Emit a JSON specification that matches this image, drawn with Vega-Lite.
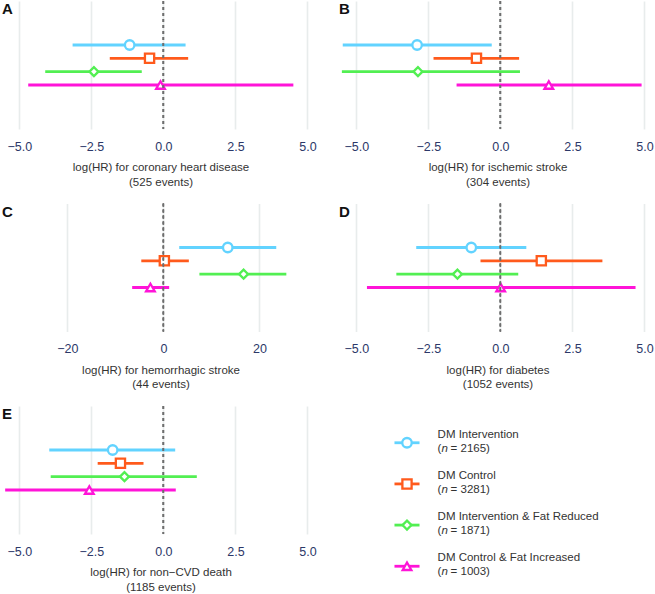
{
  "$schema": "https://vega.github.io/schema/vega-lite/v6.json",
  "padding": {"left": 2, "top": 0, "right": 0, "bottom": 0},
  "background": "white",
  "config": {
    "view": {"stroke": null},
    "font": "Liberation Sans",
    "axis": {"domain": false, "ticks": false, "grid": true, "gridColor": "#E8ECEC", "gridWidth": 1.6, "labelFont": "Liberation Sans", "labelFontSize": 12.5, "labelColor": "#2C3868", "labelFlush": false, "labelOverlap": false, "labelPadding": 11, "titleFont": "Liberation Sans", "titleFontSize": 11.5, "titleColor": "#333333", "titleFontWeight": "normal", "titlePadding": 9, "titleLineHeight": 14.5},
    "title": {"font": "Liberation Sans", "fontSize": 15, "fontWeight": "bold", "color": "#111111", "anchor": "start", "frame": "group", "offset": -17},
    "text": {"font": "Liberation Sans", "fontSize": 11.5, "color": "#333333"}
  },
  "datasets": {
    "est": [
      {"panel": "A", "group": "DM Intervention", "est": -1.17, "lo": -3.15, "hi": 0.77},
      {"panel": "A", "group": "DM Control", "est": -0.48, "lo": -1.86, "hi": 0.86},
      {"panel": "A", "group": "DM Intervention & Fat Reduced", "est": -2.41, "lo": -4.10, "hi": -0.75},
      {"panel": "A", "group": "DM Control & Fat Increased", "est": -0.10, "lo": -4.69, "hi": 4.51},
      {"panel": "B", "group": "DM Intervention", "est": -2.89, "lo": -5.47, "hi": -0.30},
      {"panel": "B", "group": "DM Control", "est": -0.83, "lo": -2.32, "hi": 0.65},
      {"panel": "B", "group": "DM Intervention & Fat Reduced", "est": -2.86, "lo": -5.50, "hi": 0.68},
      {"panel": "B", "group": "DM Control & Fat Increased", "est": 1.68, "lo": -1.52, "hi": 4.90},
      {"panel": "C", "group": "DM Intervention", "est": 13.4, "lo": 3.3, "hi": 23.5},
      {"panel": "C", "group": "DM Control", "est": 0.2, "lo": -4.6, "hi": 5.3},
      {"panel": "C", "group": "DM Intervention & Fat Reduced", "est": 16.7, "lo": 7.5, "hi": 25.6},
      {"panel": "C", "group": "DM Control & Fat Increased", "est": -2.7, "lo": -6.5, "hi": 1.2},
      {"panel": "D", "group": "DM Intervention", "est": -1.01, "lo": -2.92, "hi": 0.90},
      {"panel": "D", "group": "DM Control", "est": 1.42, "lo": -0.69, "hi": 3.54},
      {"panel": "D", "group": "DM Intervention & Fat Reduced", "est": -1.49, "lo": -3.61, "hi": 0.62},
      {"panel": "D", "group": "DM Control & Fat Increased", "est": 0.01, "lo": -4.63, "hi": 4.69},
      {"panel": "E", "group": "DM Intervention", "est": -1.76, "lo": -3.96, "hi": 0.41},
      {"panel": "E", "group": "DM Control", "est": -1.49, "lo": -2.28, "hi": -0.69},
      {"panel": "E", "group": "DM Intervention & Fat Reduced", "est": -1.35, "lo": -3.91, "hi": 1.16},
      {"panel": "E", "group": "DM Control & Fat Increased", "est": -2.57, "lo": -5.49, "hi": 0.43}
    ],
    "leg": [
      {"group": "DM Intervention", "ntext": "= 2165)"},
      {"group": "DM Control", "ntext": "= 3281)"},
      {"group": "DM Intervention & Fat Reduced", "ntext": "= 1871)"},
      {"group": "DM Control & Fat Increased", "ntext": "= 1003)"}
    ]
  },
  "columns": 2,
  "bounds": "flush",
  "spacing": {"row": 74.5, "column": 20},
  "concat": [
    {
      "width": 317, "height": 128,
      "title": {"text": "A"},
      "data": {"name": "est"},
      "transform": [{"filter": "datum.panel === 'A'"}],
      "layer": [
        {"mark": {"type": "rule", "strokeWidth": 2.8},
         "encoding": {
           "x": {"field": "lo", "type": "quantitative", "scale": {"domain": [-5.6, 5.4], "nice": false, "zero": false}, "axis": {"values": [-5, -2.5, 0, 2.5, 5], "format": ".1f", "title": ["log(HR) for coronary heart disease", "(525 events)"]}},
           "x2": {"field": "hi"},
           "y": {"field": "group", "type": "nominal", "scale": {"type": "point", "padding": 0.3, "domain": [" ", "  ", "   ", "DM Intervention", "DM Control", "DM Intervention & Fat Reduced", "DM Control & Fat Increased", "    ", "     ", "      "]}, "axis": null},
           "color": {"field": "group", "type": "nominal", "scale": {"domain": ["DM Intervention", "DM Control", "DM Intervention & Fat Reduced", "DM Control & Fat Increased"], "range": ["#62D3FF", "#FF5A1C", "#52EF52", "#FF14D8"]}, "legend": null}
         }},
        {"mark": {"type": "point", "filled": false, "fill": "white", "fillOpacity": 1, "strokeWidth": 2.3, "opacity": 1},
         "encoding": {
           "x": {"field": "est", "type": "quantitative"},
           "y": {"field": "group", "type": "nominal"},
           "color": {"field": "group", "type": "nominal", "legend": null},
           "shape": {"field": "group", "type": "nominal", "scale": {"domain": ["DM Intervention", "DM Control", "DM Intervention & Fat Reduced", "DM Control & Fat Increased"], "range": ["circle", "square", "diamond", "triangle-up"]}, "legend": null},
           "size": {"field": "group", "type": "nominal", "scale": {"domain": ["DM Intervention", "DM Control", "DM Intervention & Fat Reduced", "DM Control & Fat Increased"], "range": [90, 75, 140, 160]}, "legend": null}
         }},
        {"mark": {"type": "rule", "strokeDash": [3, 3], "color": "#6E6E6E", "strokeWidth": 1.4}, "encoding": {"x": {"datum": 0, "type": "quantitative"}}}
      ]
    },
    {
      "width": 317, "height": 128,
      "title": {"text": "B"},
      "data": {"name": "est"},
      "transform": [{"filter": "datum.panel === 'B'"}],
      "layer": [
        {"mark": {"type": "rule", "strokeWidth": 2.8},
         "encoding": {
           "x": {"field": "lo", "type": "quantitative", "scale": {"domain": [-5.6, 5.4], "nice": false, "zero": false}, "axis": {"values": [-5, -2.5, 0, 2.5, 5], "format": ".1f", "title": ["log(HR) for ischemic stroke", "(304 events)"]}},
           "x2": {"field": "hi"},
           "y": {"field": "group", "type": "nominal", "scale": {"type": "point", "padding": 0.3, "domain": [" ", "  ", "   ", "DM Intervention", "DM Control", "DM Intervention & Fat Reduced", "DM Control & Fat Increased", "    ", "     ", "      "]}, "axis": null},
           "color": {"field": "group", "type": "nominal", "scale": {"domain": ["DM Intervention", "DM Control", "DM Intervention & Fat Reduced", "DM Control & Fat Increased"], "range": ["#62D3FF", "#FF5A1C", "#52EF52", "#FF14D8"]}, "legend": null}
         }},
        {"mark": {"type": "point", "filled": false, "fill": "white", "fillOpacity": 1, "strokeWidth": 2.3, "opacity": 1},
         "encoding": {
           "x": {"field": "est", "type": "quantitative"},
           "y": {"field": "group", "type": "nominal"},
           "color": {"field": "group", "type": "nominal", "legend": null},
           "shape": {"field": "group", "type": "nominal", "scale": {"domain": ["DM Intervention", "DM Control", "DM Intervention & Fat Reduced", "DM Control & Fat Increased"], "range": ["circle", "square", "diamond", "triangle-up"]}, "legend": null},
           "size": {"field": "group", "type": "nominal", "scale": {"domain": ["DM Intervention", "DM Control", "DM Intervention & Fat Reduced", "DM Control & Fat Increased"], "range": [90, 75, 140, 160]}, "legend": null}
         }},
        {"mark": {"type": "rule", "strokeDash": [3, 3], "color": "#6E6E6E", "strokeWidth": 1.4}, "encoding": {"x": {"datum": 0, "type": "quantitative"}}}
      ]
    },
    {
      "width": 317, "height": 128,
      "title": {"text": "C"},
      "data": {"name": "est"},
      "transform": [{"filter": "datum.panel === 'C'"}],
      "layer": [
        {"mark": {"type": "rule", "strokeWidth": 2.8},
         "encoding": {
           "x": {"field": "lo", "type": "quantitative", "scale": {"domain": [-33.6, 32.4], "nice": false, "zero": false}, "axis": {"values": [-20, 0, 20], "format": "d", "title": ["log(HR) for hemorrhagic stroke", "(44 events)"]}},
           "x2": {"field": "hi"},
           "y": {"field": "group", "type": "nominal", "scale": {"type": "point", "padding": 0.3, "domain": [" ", "  ", "   ", "DM Intervention", "DM Control", "DM Intervention & Fat Reduced", "DM Control & Fat Increased", "    ", "     ", "      "]}, "axis": null},
           "color": {"field": "group", "type": "nominal", "scale": {"domain": ["DM Intervention", "DM Control", "DM Intervention & Fat Reduced", "DM Control & Fat Increased"], "range": ["#62D3FF", "#FF5A1C", "#52EF52", "#FF14D8"]}, "legend": null}
         }},
        {"mark": {"type": "point", "filled": false, "fill": "white", "fillOpacity": 1, "strokeWidth": 2.3, "opacity": 1},
         "encoding": {
           "x": {"field": "est", "type": "quantitative"},
           "y": {"field": "group", "type": "nominal"},
           "color": {"field": "group", "type": "nominal", "legend": null},
           "shape": {"field": "group", "type": "nominal", "scale": {"domain": ["DM Intervention", "DM Control", "DM Intervention & Fat Reduced", "DM Control & Fat Increased"], "range": ["circle", "square", "diamond", "triangle-up"]}, "legend": null},
           "size": {"field": "group", "type": "nominal", "scale": {"domain": ["DM Intervention", "DM Control", "DM Intervention & Fat Reduced", "DM Control & Fat Increased"], "range": [90, 75, 140, 160]}, "legend": null}
         }},
        {"mark": {"type": "rule", "strokeDash": [3, 3], "color": "#6E6E6E", "strokeWidth": 1.4}, "encoding": {"x": {"datum": 0, "type": "quantitative"}}}
      ]
    },
    {
      "width": 317, "height": 128,
      "title": {"text": "D"},
      "data": {"name": "est"},
      "transform": [{"filter": "datum.panel === 'D'"}],
      "layer": [
        {"mark": {"type": "rule", "strokeWidth": 2.8},
         "encoding": {
           "x": {"field": "lo", "type": "quantitative", "scale": {"domain": [-5.6, 5.4], "nice": false, "zero": false}, "axis": {"values": [-5, -2.5, 0, 2.5, 5], "format": ".1f", "title": ["log(HR) for diabetes", "(1052 events)"]}},
           "x2": {"field": "hi"},
           "y": {"field": "group", "type": "nominal", "scale": {"type": "point", "padding": 0.3, "domain": [" ", "  ", "   ", "DM Intervention", "DM Control", "DM Intervention & Fat Reduced", "DM Control & Fat Increased", "    ", "     ", "      "]}, "axis": null},
           "color": {"field": "group", "type": "nominal", "scale": {"domain": ["DM Intervention", "DM Control", "DM Intervention & Fat Reduced", "DM Control & Fat Increased"], "range": ["#62D3FF", "#FF5A1C", "#52EF52", "#FF14D8"]}, "legend": null}
         }},
        {"mark": {"type": "point", "filled": false, "fill": "white", "fillOpacity": 1, "strokeWidth": 2.3, "opacity": 1},
         "encoding": {
           "x": {"field": "est", "type": "quantitative"},
           "y": {"field": "group", "type": "nominal"},
           "color": {"field": "group", "type": "nominal", "legend": null},
           "shape": {"field": "group", "type": "nominal", "scale": {"domain": ["DM Intervention", "DM Control", "DM Intervention & Fat Reduced", "DM Control & Fat Increased"], "range": ["circle", "square", "diamond", "triangle-up"]}, "legend": null},
           "size": {"field": "group", "type": "nominal", "scale": {"domain": ["DM Intervention", "DM Control", "DM Intervention & Fat Reduced", "DM Control & Fat Increased"], "range": [90, 75, 140, 160]}, "legend": null}
         }},
        {"mark": {"type": "rule", "strokeDash": [3, 3], "color": "#6E6E6E", "strokeWidth": 1.4}, "encoding": {"x": {"datum": 0, "type": "quantitative"}}}
      ]
    },
    {
      "width": 317, "height": 128,
      "title": {"text": "E"},
      "data": {"name": "est"},
      "transform": [{"filter": "datum.panel === 'E'"}],
      "layer": [
        {"mark": {"type": "rule", "strokeWidth": 2.8},
         "encoding": {
           "x": {"field": "lo", "type": "quantitative", "scale": {"domain": [-5.6, 5.4], "nice": false, "zero": false}, "axis": {"values": [-5, -2.5, 0, 2.5, 5], "format": ".1f", "title": ["log(HR) for non\u2212CVD death", "(1185 events)"]}},
           "x2": {"field": "hi"},
           "y": {"field": "group", "type": "nominal", "scale": {"type": "point", "padding": 0.3, "domain": [" ", "  ", "   ", "DM Intervention", "DM Control", "DM Intervention & Fat Reduced", "DM Control & Fat Increased", "    ", "     ", "      "]}, "axis": null},
           "color": {"field": "group", "type": "nominal", "scale": {"domain": ["DM Intervention", "DM Control", "DM Intervention & Fat Reduced", "DM Control & Fat Increased"], "range": ["#62D3FF", "#FF5A1C", "#52EF52", "#FF14D8"]}, "legend": null}
         }},
        {"mark": {"type": "point", "filled": false, "fill": "white", "fillOpacity": 1, "strokeWidth": 2.3, "opacity": 1},
         "encoding": {
           "x": {"field": "est", "type": "quantitative"},
           "y": {"field": "group", "type": "nominal"},
           "color": {"field": "group", "type": "nominal", "legend": null},
           "shape": {"field": "group", "type": "nominal", "scale": {"domain": ["DM Intervention", "DM Control", "DM Intervention & Fat Reduced", "DM Control & Fat Increased"], "range": ["circle", "square", "diamond", "triangle-up"]}, "legend": null},
           "size": {"field": "group", "type": "nominal", "scale": {"domain": ["DM Intervention", "DM Control", "DM Intervention & Fat Reduced", "DM Control & Fat Increased"], "range": [90, 75, 140, 160]}, "legend": null}
         }},
        {"mark": {"type": "rule", "strokeDash": [3, 3], "color": "#6E6E6E", "strokeWidth": 1.4}, "encoding": {"x": {"datum": 0, "type": "quantitative"}}}
      ]
    },
    {
      "width": 317, "height": 197,
      "data": {"name": "leg"},
      "encoding": {
        "y": {"field": "group", "type": "nominal", "scale": {"type": "point", "padding": 0.893, "domain": ["DM Intervention", "DM Control", "DM Intervention & Fat Reduced", "DM Control & Fat Increased"]}, "axis": null}
      },
      "layer": [
        {"mark": {"type": "rule", "strokeWidth": 2.8},
         "encoding": {
           "x": {"datum": 0.175, "type": "quantitative", "scale": {"domain": [0, 1], "nice": false, "zero": false}, "axis": null},
           "x2": {"datum": 0.254},
           "color": {"field": "group", "type": "nominal", "scale": {"domain": ["DM Intervention", "DM Control", "DM Intervention & Fat Reduced", "DM Control & Fat Increased"], "range": ["#62D3FF", "#FF5A1C", "#52EF52", "#FF14D8"]}, "legend": null}
         }},
        {"mark": {"type": "point", "filled": false, "fill": "white", "fillOpacity": 1, "strokeWidth": 2.3, "opacity": 1},
         "encoding": {
           "x": {"datum": 0.2145, "type": "quantitative"},
           "color": {"field": "group", "type": "nominal", "legend": null},
           "shape": {"field": "group", "type": "nominal", "scale": {"domain": ["DM Intervention", "DM Control", "DM Intervention & Fat Reduced", "DM Control & Fat Increased"], "range": ["circle", "square", "diamond", "triangle-up"]}, "legend": null},
           "size": {"field": "group", "type": "nominal", "scale": {"domain": ["DM Intervention", "DM Control", "DM Intervention & Fat Reduced", "DM Control & Fat Increased"], "range": [90, 75, 140, 160]}, "legend": null}
         }},
        {"mark": {"type": "text", "align": "left", "baseline": "middle", "dy": -8},
         "encoding": {"x": {"datum": 0.311, "type": "quantitative"}, "text": {"field": "group"}}},
        {"mark": {"type": "text", "align": "left", "baseline": "middle", "dy": 6},
         "encoding": {"x": {"datum": 0.311, "type": "quantitative"}, "text": {"value": "("}}},
        {"mark": {"type": "text", "align": "left", "baseline": "middle", "dy": 6, "dx": 3.9, "fontStyle": "italic"},
         "encoding": {"x": {"datum": 0.311, "type": "quantitative"}, "text": {"value": "n"}}},
        {"mark": {"type": "text", "align": "left", "baseline": "middle", "dy": 6, "dx": 13},
         "encoding": {"x": {"datum": 0.311, "type": "quantitative"}, "text": {"field": "ntext"}}}
      ]
    }
  ]
}
